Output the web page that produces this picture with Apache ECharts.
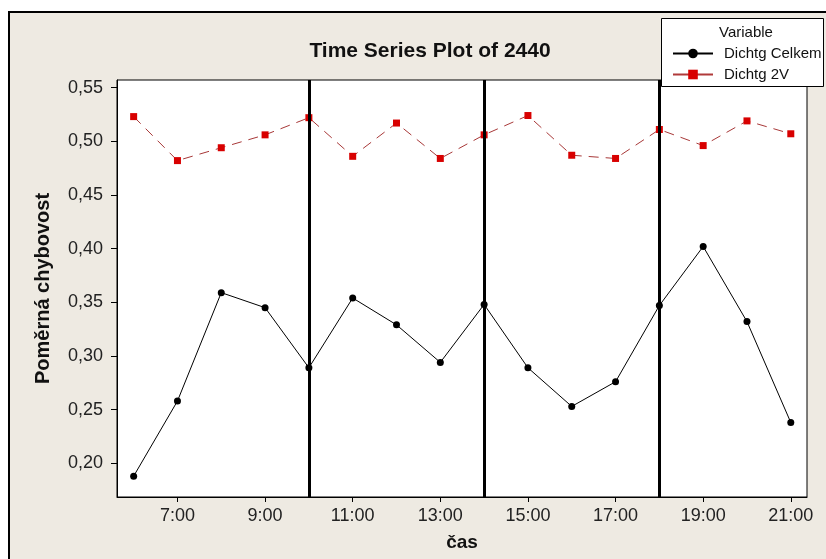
<!DOCTYPE html>
<html>
<head>
<meta charset="utf-8">
<script src="https://cdn.jsdelivr.net/npm/echarts@6/dist/echarts.min.js"></script>
<style>
  html, body { margin: 0; padding: 0; background: #ffffff; }
  #frame { position: absolute; left: 8px; top: 11px; width: 830px; height: 560px;
           box-sizing: border-box; border-left: 2px solid #000; border-top: 2px solid #000;
           background: #EEEAE2; }
  #chart { position: absolute; left: 0; top: 0; width: 826px; height: 559px; }
</style>
</head>
<body>
<div id="frame"></div>
<div id="chart"></div>
<script>
// ---- data ----
const hours = [6, 7, 8, 9, 10, 11, 12, 13, 14, 15, 16, 17, 18, 19, 20, 21];
const dichtgCelkem = [0.188, 0.258, 0.359, 0.345, 0.289, 0.354, 0.329, 0.294, 0.348, 0.289, 0.253, 0.276, 0.347, 0.402, 0.332, 0.238];
const dichtg2V = [0.523, 0.482, 0.494, 0.506, 0.522, 0.486, 0.517, 0.484, 0.506, 0.524, 0.487, 0.484, 0.511, 0.496, 0.519, 0.507];
const xTickValues = [7, 9, 11, 13, 15, 17, 19, 21];
const yTickValues = [0.20, 0.25, 0.30, 0.35, 0.40, 0.45, 0.50, 0.55];
const dividerHours = [10, 14, 18];
const seriesNames = ['Dichtg Celkem', 'Dichtg 2V'];
const titleText = 'Time Series Plot of 2440';
const xName = 'čas';
const yName = 'Poměrná chybovost';
const legendTitle = 'Variable';

const FONT = 'Liberation Sans, Arial, sans-serif';
const chart = echarts.init(document.getElementById('chart'), null, { renderer: 'canvas' });

const pairs = (ys) => hours.map((h, i) => [h, ys[i]]);

const option = {
  backgroundColor: 'transparent',
  animation: false,
  title: {
    text: titleText,
    left: 425,
    top: 36,
    textAlign: 'center',
    textStyle: { fontFamily: FONT, fontSize: 21, fontWeight: 'bold', color: '#111' }
  },
  grid: {
    left: 117, top: 80, right: 19, bottom: 62,
    show: true, backgroundColor: '#ffffff', borderColor: '#000', borderWidth: 1,
    containLabel: false
  },
  xAxis: {
    type: 'value',
    min: 5.62, max: 21.37,
    name: xName,
    nameLocation: 'middle',
    nameGap: 36,
    nameTextStyle: { fontFamily: FONT, fontSize: 19, fontWeight: 'bold', color: '#111' },
    axisLine: { show: true, lineStyle: { color: '#000', width: 1 } },
    axisTick: { show: true, length: 5, lineStyle: { color: '#000' }, customValues: xTickValues },
    axisLabel: {
      fontFamily: FONT, fontSize: 18, color: '#222', margin: 10,
      customValues: xTickValues,
      formatter: (v) => Math.round(v) + ':00'
    },
    splitLine: { show: false }
  },
  yAxis: {
    type: 'value',
    min: 0.1686, max: 0.5571,
    name: yName,
    nameLocation: 'middle',
    nameGap: 64,
    nameRotate: 90,
    nameTextStyle: { fontFamily: FONT, fontSize: 20, fontWeight: 'bold', color: '#111' },
    axisLine: { show: true, lineStyle: { color: '#000', width: 1 } },
    axisTick: { show: true, length: 6, lineStyle: { color: '#000' }, customValues: yTickValues },
    axisLabel: {
      fontFamily: FONT, fontSize: 18, color: '#222', margin: 14,
      customValues: yTickValues,
      formatter: (v) => v.toFixed(2).replace('.', ',')
    },
    splitLine: { show: false }
  },
  legend: {
    orient: 'vertical',
    left: 667, top: 41,
    itemWidth: 40, itemHeight: 12, itemGap: 6,
    selectedMode: false,
    z: 10,
    textStyle: { fontFamily: FONT, fontSize: 15, color: '#111', padding: [0, 0, 0, 6] },
    data: [
      { name: seriesNames[0] },
      { name: seriesNames[1], lineStyle: { type: 'solid', color: '#B03A3A' } }
    ]
  },
  graphic: [
    {
      type: 'rect', z: 8,
      shape: { x: 661.5, y: 18.5, width: 162, height: 68 },
      style: { fill: '#ffffff', stroke: '#000', lineWidth: 1 }
    },
    {
      type: 'text', z: 9,
      x: 719, y: 33,
      style: { text: legendTitle, font: '15px ' + FONT, fill: '#111', textVerticalAlign: 'middle' }
    }
  ],
  series: [
    {
      name: seriesNames[0],
      type: 'line',
      data: pairs(dichtgCelkem),
      symbol: 'circle', symbolSize: 7,
      itemStyle: { color: '#000' },
      lineStyle: { color: '#000', width: 1 },
      markLine: {
        silent: true,
        symbol: ['none', 'none'],
        label: { show: false },
        lineStyle: { color: '#000', width: 3, type: 'solid' },
        data: dividerHours.map((h) => ({ xAxis: h }))
      },
      z: 3
    },
    {
      name: seriesNames[1],
      type: 'line',
      data: pairs(dichtg2V),
      symbol: 'rect', symbolSize: 7,
      itemStyle: { color: '#D80000' },
      lineStyle: { color: '#A83838', width: 1, type: [10, 7] },
      z: 3
    }
  ]
};
chart.setOption(option);
</script>
</body>
</html>
